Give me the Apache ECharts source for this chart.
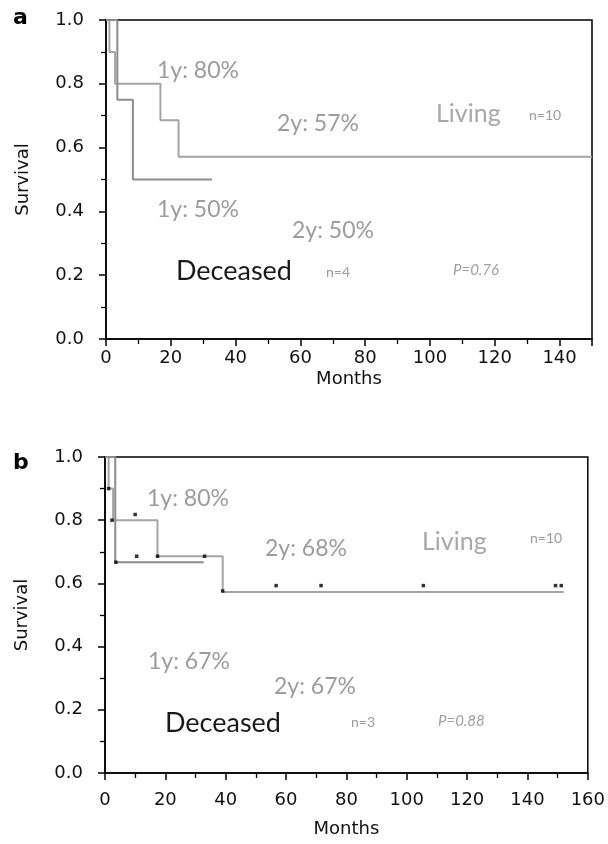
<!DOCTYPE html>
<html>
<head>
<meta charset="utf-8">
<script src="https://cdn.jsdelivr.net/npm/echarts@6/dist/echarts.min.js"></script>
<style>
html,body{margin:0;padding:0;background:#fff;}
#chart{width:608px;height:844px;}
</style>
</head>
<body>
<div id="chart"></div>
<script>
// ---- Data ----
// Panel a: Kaplan-Meier step points [months, survival]
const livingA = [[0,1],[1.05,1],[1.05,0.9],[2.8,0.9],[2.8,0.8],[16.8,0.8],[16.8,0.686],[22.4,0.686],[22.4,0.571],[150,0.571]];
const deceasedA = [[0,1],[3.5,1],[3.5,0.75],[8.3,0.75],[8.3,0.5],[32.7,0.5]];
// Panel b
const livingB = [[0,1],[1.2,1],[1.2,0.9],[2.7,0.9],[2.7,0.8],[17.4,0.8],[17.4,0.686],[39,0.686],[39,0.573],[152,0.573]];
const deceasedB = [[0,1],[3.4,1],[3.4,0.667],[32.7,0.667]];
// Panel b censor marks [months, survival]
const censorB = [[1.2,0.90],[2.3,0.80],[10.0,0.818],[10.5,0.686],[3.6,0.667],[17.4,0.686],[33.0,0.686],[39.0,0.576],[56.7,0.593],[71.6,0.593],[105.5,0.593],[149.3,0.593],[151.2,0.593]];
// Axis ranges / ticks
const xMaxA = 150, xMaxB = 160, xStep = 20;
const yTicks = ['0.0','0.2','0.4','0.6','0.8','1.0'];
// Annotation texts
const annA = {y1L:'1y: 80%', y2L:'2y: 57%', y1D:'1y: 50%', y2D:'2y: 50%', nL:'n=10', nD:'n=4', p:'P=0.76'};
const annB = {y1L:'1y: 80%', y2L:'2y: 68%', y1D:'1y: 67%', y2D:'2y: 67%', nL:'n=10', nD:'n=3', p:'P=0.88'};

const chart = echarts.init(document.getElementById('chart'));
const axisFont = {fontFamily:'DejaVu Sans', fontSize:18, color:'#111'};
const grey = '#9c9c9c';

function xAxis(gi, max, lm, ng){
  return {
    type:'value', gridIndex:gi, min:0, max:max, interval:xStep,
    name:'Months', nameLocation:'middle', nameGap:ng,
    nameTextStyle:{fontFamily:'DejaVu Sans', fontSize:18, color:'#111'},
    axisLine:{show:true, lineStyle:{color:'#000', width:1.5}},
    axisTick:{show:true, inside:false, length:7, lineStyle:{color:'#000', width:1.5}},
    minorTick:{show:true, splitNumber:2, length:5, lineStyle:{color:'#000', width:1.3}},
    axisLabel:Object.assign({margin:lm, showMaxLabel: max % xStep === 0}, axisFont),
    splitLine:{show:false}
  };
}
function yAxis(gi){
  return {
    type:'value', gridIndex:gi, min:0, max:1, interval:0.2,
    name:'Survival', nameLocation:'middle', nameGap:74, nameRotate:90,
    nameTextStyle:{fontFamily:'DejaVu Sans', fontSize:18, color:'#111'},
    axisLine:{show:true, lineStyle:{color:'#000', width:1.5}},
    axisTick:{show:true, inside:false, length:7, lineStyle:{color:'#000', width:1.5}},
    minorTick:{show:true, splitNumber:2, length:5, lineStyle:{color:'#000', width:1.3}},
    axisLabel:Object.assign({margin:22, formatter:(v)=>yTicks[Math.round(v*5)]}, axisFont),
    splitLine:{show:false}
  };
}
function line(data, xi, color){
  return {type:'line', xAxisIndex:xi, yAxisIndex:xi, data:data, symbol:'none',
    lineStyle:{color:color, width:2}, animation:false, z:3};
}
function txt(x, y, text, size, color, extra){
  return {type:'text', x:x, y:y, style:Object.assign({text:text, fontFamily:'Lato', fontSize:size, fill:color, verticalAlign:'middle', align:'left'}, extra||{})};
}
function annGroup(a, pos, nSize){
  return [
    txt(pos.y1L[0], pos.y1L[1], a.y1L, 23, grey),
    txt(pos.y2L[0], pos.y2L[1], a.y2L, 23, grey),
    txt(pos.liv[0], pos.liv[1], 'Living', 25, '#a8a8a8'),
    txt(pos.nL[0], pos.nL[1], a.nL, nSize, grey),
    txt(pos.y1D[0], pos.y1D[1], a.y1D, 23, grey),
    txt(pos.y2D[0], pos.y2D[1], a.y2D, 23, grey),
    txt(pos.dec[0], pos.dec[1], 'Deceased', 27, '#1a1a1a'),
    txt(pos.nD[0], pos.nD[1], a.nD, nSize, grey),
    txt(pos.p[0], pos.p[1], a.p, 15, '#a0a0a0', {fontStyle:'italic'})
  ];
}

const option = {
  backgroundColor:'#fff',
  animation:false,
  grid:[
    {left:106, right:16, top:20, height:319, show:true, borderColor:'#000', borderWidth:1.5, backgroundColor:'transparent'},
    {left:105, right:20, top:457, height:316, show:true, borderColor:'#000', borderWidth:1.5, backgroundColor:'transparent'}
  ],
  xAxis:[xAxis(0, xMaxA, 10, 31), xAxis(1, xMaxB, 18, 47)],
  yAxis:[yAxis(0), yAxis(1)],
  series:[
    line(livingA, 0, '#a4a4a4'),
    line(deceasedA, 0, '#8c8c8c'),
    line(livingB, 1, '#a4a4a4'),
    line(deceasedB, 1, '#8c8c8c'),
    {type:'scatter', xAxisIndex:1, yAxisIndex:1, data:censorB, symbol:'rect', symbolSize:3.5,
      itemStyle:{color:'#000'}, z:5, animation:false}
  ],
  graphic:[
    {type:'text', x:13, y:18, style:{text:'a', fontFamily:'DejaVu Sans', fontWeight:'bold', fontSize:22, fill:'#000', verticalAlign:'middle'}},
    {type:'text', x:13, y:463, style:{text:'b', fontFamily:'DejaVu Sans', fontWeight:'bold', fontSize:22, fill:'#000', verticalAlign:'middle'}}
  ].concat(
    annGroup(annA, {y1L:[157,71], y2L:[277,124], liv:[436,114], nL:[529,115], y1D:[157,210], y2D:[292,231], dec:[176,271], nD:[326,272], p:[453,270]}, 14),
    annGroup(annB, {y1L:[147,499], y2L:[265,549], liv:[422,542], nL:[530,538], y1D:[148,662], y2D:[274,687], dec:[165,723], nD:[351,722], p:[438,721]}, 14)
  )
};
chart.setOption(option);
</script>
</body>
</html>
